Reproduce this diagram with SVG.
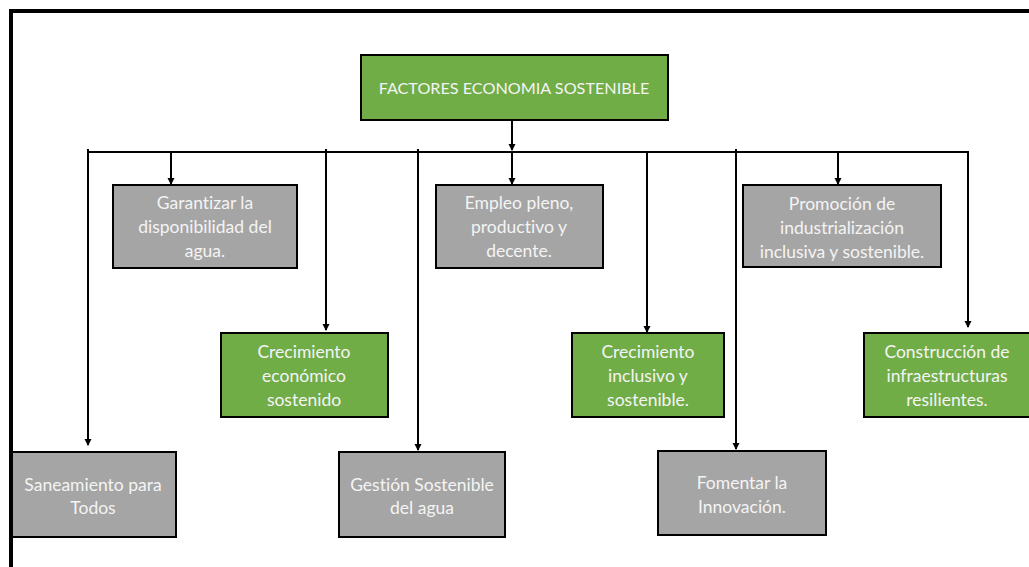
<svg xmlns="http://www.w3.org/2000/svg" width="1029" height="567" viewBox="0 0 1029 567">
  <style>
    .green { fill: #70AD47; stroke: #000; stroke-width: 2; }
    .gray { fill: #A5A5A5; stroke: #000; stroke-width: 2; }
    .lbl { font-family: Lato, "Open Sans", "Liberation Sans", sans-serif; font-size: 17.5px; fill: #F4F4F4; text-anchor: middle; font-variant-ligatures: none; }
    .title { font-size: 16.2px; }
    .wire { fill: none; stroke: #000; stroke-width: 2; }
  </style>
  <defs>
    <marker id="tip" markerWidth="8" markerHeight="8" refX="6" refY="4" orient="auto" markerUnits="userSpaceOnUse">
      <path d="M0,0.5 L7,4 L0,7.5 Z" fill="#000"/>
    </marker>
  </defs>

  <rect width="1029" height="567" fill="#fff"/>
  <!-- outer frame -->
  <path d="M11,570 L11,11 L1035,11" fill="none" stroke="#000" stroke-width="4"/>

  <!-- connectors -->
  <g id="connectors">
    <line class="wire" x1="512" y1="120" x2="512" y2="150" marker-end="url(#tip)"/>
    <line class="wire" x1="88" y1="152" x2="968" y2="152" stroke-width="2.5"/>
    <line class="wire" x1="88" y1="149" x2="88" y2="445" marker-end="url(#tip)"/>
    <line class="wire" x1="171" y1="152" x2="171" y2="184" marker-end="url(#tip)"/>
    <line class="wire" x1="326" y1="149" x2="326" y2="330" marker-end="url(#tip)"/>
    <line class="wire" x1="418" y1="149" x2="418" y2="450" marker-end="url(#tip)"/>
    <line class="wire" x1="512" y1="152" x2="512" y2="184" marker-end="url(#tip)"/>
    <line class="wire" x1="647" y1="152" x2="647" y2="332" marker-end="url(#tip)"/>
    <line class="wire" x1="736" y1="149" x2="736" y2="449" marker-end="url(#tip)"/>
    <line class="wire" x1="838" y1="152" x2="838" y2="184" marker-end="url(#tip)"/>
    <line class="wire" x1="968" y1="151" x2="968" y2="327" marker-end="url(#tip)"/>
  </g>

  <g id="root">
    <rect class="green" x="361" y="55" width="307" height="65"/>
    <text class="lbl title" x="514" y="94">FACTORES ECONOMIA SOSTENIBLE</text>
  </g>

  <g id="garantizar">
    <rect class="gray" x="113" y="185" width="184" height="83"/>
    <text class="lbl" x="205" y="209">Garantizar la</text>
    <text class="lbl" x="205" y="233">disponibilidad del</text>
    <text class="lbl" x="205" y="257">agua.</text>
  </g>

  <g id="empleo">
    <rect class="gray" x="436" y="185" width="167" height="83"/>
    <text class="lbl" x="519" y="209">Empleo pleno,</text>
    <text class="lbl" x="519" y="233">productivo y</text>
    <text class="lbl" x="519" y="257">decente.</text>
  </g>

  <g id="promocion">
    <rect class="gray" x="743" y="185" width="198" height="82"/>
    <text class="lbl" x="842" y="210">Promoción de</text>
    <text class="lbl" x="842" y="234">industrialización</text>
    <text class="lbl" x="842" y="258">inclusiva y sostenible.</text>
  </g>

  <g id="crecimiento-economico">
    <rect class="green" x="221" y="333" width="167" height="84"/>
    <text class="lbl" x="304" y="358">Crecimiento</text>
    <text class="lbl" x="304" y="382">económico</text>
    <text class="lbl" x="304" y="406">sostenido</text>
  </g>

  <g id="crecimiento-inclusivo">
    <rect class="green" x="572" y="333" width="152" height="84"/>
    <text class="lbl" x="648" y="358">Crecimiento</text>
    <text class="lbl" x="648" y="382">inclusivo y</text>
    <text class="lbl" x="648" y="406">sostenible.</text>
  </g>

  <g id="construccion">
    <rect class="green" x="864" y="333" width="170" height="84"/>
    <text class="lbl" x="947" y="358">Construcción de</text>
    <text class="lbl" x="947" y="382">infraestructuras</text>
    <text class="lbl" x="947" y="406">resilientes.</text>
  </g>

  <g id="saneamiento">
    <rect class="gray" x="12" y="452" width="164" height="85"/>
    <text class="lbl" x="93" y="491">Saneamiento para</text>
    <text class="lbl" x="93" y="514">Todos</text>
  </g>

  <g id="gestion">
    <rect class="gray" x="339" y="452" width="166" height="85"/>
    <text class="lbl" x="422" y="491">Gestión Sostenible</text>
    <text class="lbl" x="422" y="514">del agua</text>
  </g>

  <g id="fomentar">
    <rect class="gray" x="658" y="451" width="168" height="84"/>
    <text class="lbl" x="742" y="489">Fomentar la</text>
    <text class="lbl" x="742" y="513">Innovación.</text>
  </g>
</svg>
